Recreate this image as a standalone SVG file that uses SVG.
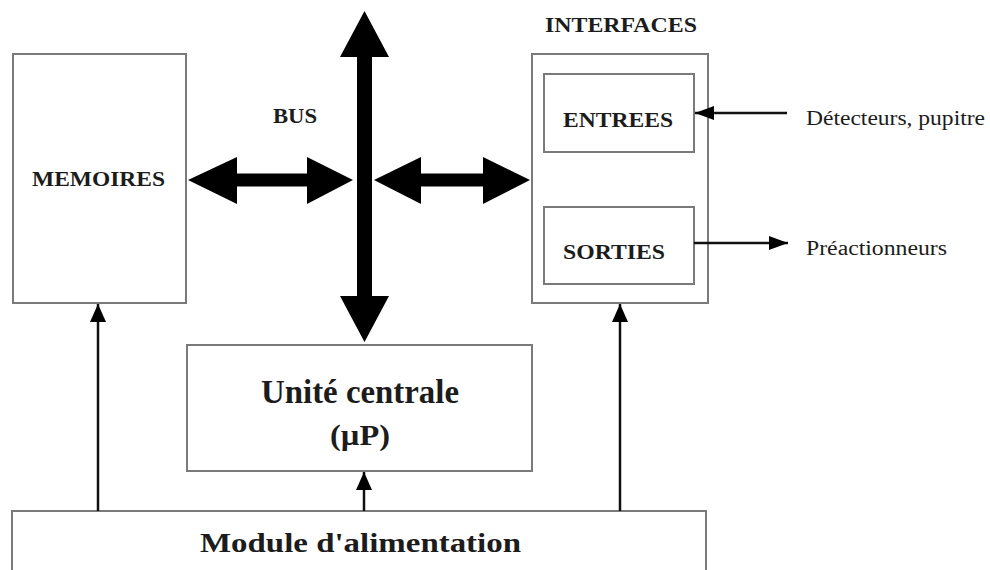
<svg xmlns="http://www.w3.org/2000/svg" width="990" height="570" viewBox="0 0 990 570">
  <style>
    .box { fill: #ffffff; stroke: #7a7a7a; stroke-width: 2; }
    .lbl { font-family: "Liberation Serif", "Times New Roman", serif; font-weight: bold; fill: #1c1c1c; }
    .ext { font-family: "Liberation Serif", "Times New Roman", serif; fill: #1c1c1c; }
    .wire { fill: none; stroke: #111111; stroke-width: 2.5; }
    .bus { fill: #000000; }
  </style>
  <defs>
    <marker id="head" markerUnits="userSpaceOnUse" markerWidth="20" markerHeight="20" viewBox="0 0 20 20" refX="18" refY="10" orient="auto">
      <path d="M0,2 L18,10 L0,18 Z" fill="#000000"/>
    </marker>
    <marker id="headS" markerUnits="userSpaceOnUse" markerWidth="20" markerHeight="16" viewBox="0 0 20 16" refX="19" refY="8" orient="auto">
      <path d="M0,1 L19,8 L0,15 Z" fill="#000000"/>
    </marker>
  </defs>
  <rect width="990" height="570" fill="#ffffff"/>

  <g id="memoires">
    <rect class="box" x="13" y="54" width="173" height="249"/>
    <text class="lbl" x="32" y="186" font-size="21" textLength="133" lengthAdjust="spacingAndGlyphs">MEMOIRES</text>
  </g>

  <g id="interfaces">
    <text class="lbl" x="545" y="32" font-size="21" textLength="152" lengthAdjust="spacingAndGlyphs">INTERFACES</text>
    <rect class="box" x="532" y="54" width="176" height="249"/>
  </g>

  <g id="entrees">
    <rect class="box" x="544" y="74" width="150" height="78"/>
    <text class="lbl" x="563" y="127" font-size="21" textLength="110" lengthAdjust="spacingAndGlyphs">ENTREES</text>
  </g>

  <g id="sorties">
    <rect class="box" x="544" y="207" width="150" height="77"/>
    <text class="lbl" x="563" y="259" font-size="21" textLength="102" lengthAdjust="spacingAndGlyphs">SORTIES</text>
  </g>

  <g id="unite-centrale">
    <rect class="box" x="187" y="345" width="345" height="126"/>
    <text class="lbl" x="261" y="403" font-size="34" textLength="198" lengthAdjust="spacingAndGlyphs">Unité centrale</text>
    <text class="lbl" x="330" y="445" font-size="29" textLength="60" lengthAdjust="spacingAndGlyphs">(µP)</text>
  </g>

  <g id="module-alimentation">
    <rect class="box" x="12" y="511" width="694" height="70"/>
    <text class="lbl" x="200" y="552" font-size="28" textLength="321" lengthAdjust="spacingAndGlyphs">Module d'alimentation</text>
  </g>

  <g id="bus">
    <text class="lbl" x="273" y="123" font-size="20" textLength="44" lengthAdjust="spacingAndGlyphs">BUS</text>
    <!-- vertical bus, double-headed -->
    <polygon class="bus" points="364.5,11 389,57 372,57 372,296 389,296 364.5,342 340,296 357,296 357,57 340,57"/>
    <!-- bus to memories -->
    <polygon class="bus" points="188,180 237,157 237,173.5 307,173.5 307,157 353,180 307,204 307,186.5 237,186.5 237,204"/>
    <!-- bus to interfaces -->
    <polygon class="bus" points="374,180 421,157 421,173.5 483,173.5 483,157 530,180 483,204 483,186.5 421,186.5 421,204"/>
  </g>

  <g id="connectors">
    <!-- power feeds -->
    <line class="wire" x1="98" y1="511" x2="98" y2="304" marker-end="url(#head)"/>
    <line class="wire" x1="364" y1="511" x2="364" y2="472" marker-end="url(#head)"/>
    <line class="wire" x1="620" y1="511" x2="620" y2="304" marker-end="url(#head)"/>
    <!-- field signals -->
    <line class="wire" x1="787" y1="113" x2="695" y2="113" stroke-width="2" marker-end="url(#headS)"/>
    <line class="wire" x1="694" y1="243" x2="788" y2="243" stroke-width="2" marker-end="url(#headS)"/>
  </g>

  <g id="labels">
    <text class="ext" x="806" y="125" font-size="20" textLength="179" lengthAdjust="spacingAndGlyphs">Détecteurs, pupitre</text>
    <text class="ext" x="806" y="255" font-size="20" textLength="141" lengthAdjust="spacingAndGlyphs">Préactionneurs</text>
  </g>
</svg>
